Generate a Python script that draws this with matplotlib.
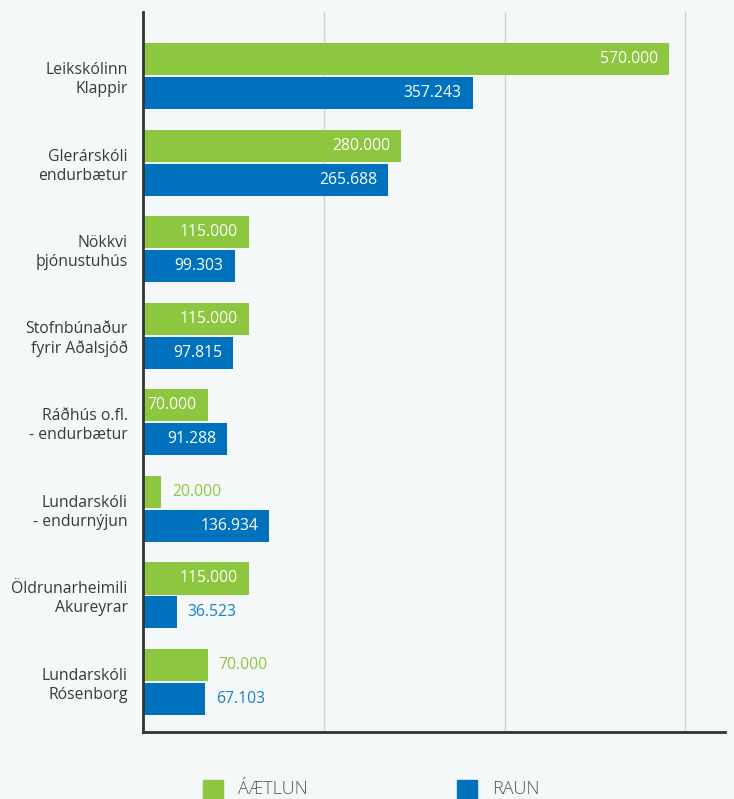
import numpy as np
import matplotlib
matplotlib.use("Agg")
import matplotlib.pyplot as plt
from matplotlib import patches

# ----------------------------
# Data
# ----------------------------
projects = ["Leikskólinn\nKlappir", "Glerárskóli\nendurbætur", "Nökkvi\nþjónustuhús",
            "Stofnbúnaður\nfyrir Aðalsjóð", "Ráðhús o.fl.\n- endurbætur",
            "Lundarskóli\n- endurnýjun", "Öldrunarheimili\nAkureyrar", "Lundarskóli\nRósenborg"]
aaetlun = [570000, 280000, 115000, 115000, 70000, 20000, 115000, 70000]
raun = [357243, 265688, 99303, 97815, 91288, 136934, 36523, 67103]
legend_labels = ["ÁÆTLUN", "RAUN"]

# label placement: True = inside bar (white), False = just outside (bar colour)
inside_green = [True, True, True, True, True, False, True, False]
inside_blue = [True, True, True, True, True, True, False, False]

GREEN = "#8dc63f"
BLUE = "#0071bc"
BG = "#f4f8f8"
TXT = "#3a3a3a"
FONT = ["Open Sans", "DejaVu Sans"]


def fmt(v):
    return f"{v:,}".replace(",", ".")


fig = plt.figure(figsize=(7.34, 7.99), dpi=100, facecolor=BG)
ax = fig.add_axes([143 / 734, 1 - 732 / 799, 582 / 734, 720 / 799])
ax.set_facecolor(BG)

y = np.arange(len(projects))
h = 0.37
off = 0.196

bars_g = ax.barh(y - off, aaetlun, height=h, color=GREEN, zorder=3)
bars_b = ax.barh(y + off, raun, height=h, color=BLUE, zorder=3)

ax.set_xlim(0, 631000)
ax.set_ylim(len(projects) - 1 + 0.577, -0.739)

ax.set_xticks([196000, 392000, 588000])
ax.set_xticklabels([])
ax.tick_params(axis="x", length=0)
ax.grid(axis="x", color="#d2d4d4", lw=1.0, zorder=0)

ax.set_yticks(y)
ax.set_yticklabels(projects, fontsize=11.3, color=TXT, family=FONT, linespacing=1.25)
ax.tick_params(axis="y", length=0, pad=11)
for lab in ax.get_yticklabels():
    lab.set_ha("right")

for s in ["top", "right"]:
    ax.spines[s].set_visible(False)
for s in ["left", "bottom"]:
    ax.spines[s].set_color("#333333")
    ax.spines[s].set_linewidth(2)
    ax.spines[s].set_zorder(5)


def label(bars, vals, inside, col):
    for b, v, ins in zip(bars, vals, inside):
        yc = b.get_y() + b.get_height() / 2
        if ins:
            ax.annotate(fmt(v), (v, yc), xytext=(-8, 0), textcoords="offset points",
                        ha="right", va="center", color="white", fontsize=11.3, family=FONT, zorder=6)
        else:
            ax.annotate(fmt(v), (v, yc), xytext=(8, 0), textcoords="offset points",
                        ha="left", va="center", color=col, fontsize=11.3, family=FONT, zorder=6)


label(bars_g, aaetlun, inside_green, GREEN)
label(bars_b, raun, inside_blue, "#1a7fc4")

# legend drawn by hand at the bottom edge
for x0, col, txt in [(203, GREEN, legend_labels[0]), (457, BLUE, legend_labels[1])]:
    fig.patches.append(patches.Rectangle((x0 / 734, 0), 20 / 734, 19 / 799,
                                         transform=fig.transFigure, color=col))
    fig.text((x0 + 35) / 734, 1 / 799, txt, fontsize=13, color="#555555",
             family=FONT, weight="light", ha="left", va="bottom")

fig.savefig("out.png", dpi=100, facecolor=BG)
